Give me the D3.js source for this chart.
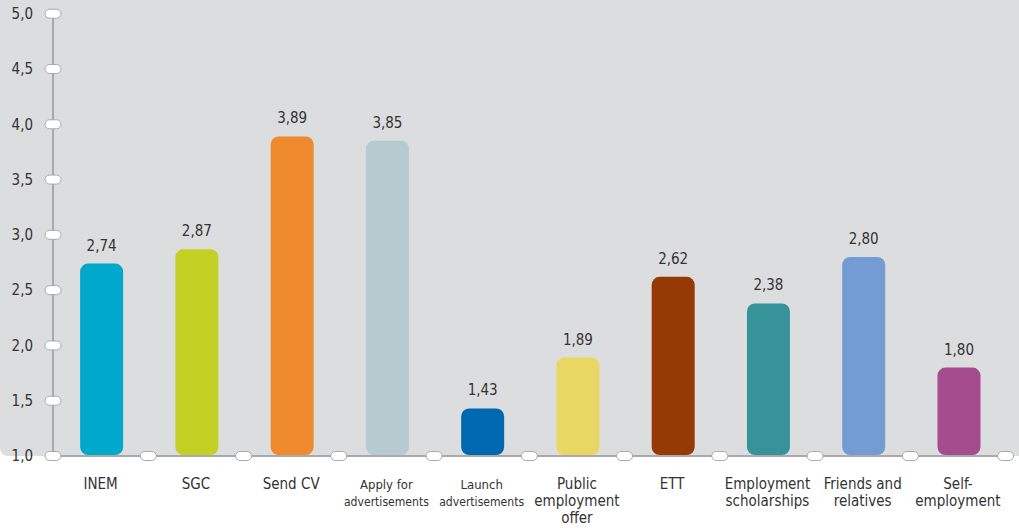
<!DOCTYPE html>
<html>
<head>
<meta charset="utf-8">
<script src="https://cdn.jsdelivr.net/npm/d3@7"></script>
<style>
  html, body { margin: 0; padding: 0; background: #ffffff; }
  svg { display: block; }
  text { font-family: "Liberation Sans Narrow", "DejaVu Sans Condensed", "Open Sans", sans-serif; fill: #333333; }
</style>
</head>
<body>
<svg id="chart" width="1019" height="528"></svg>
<script>
const categories = ["INEM", "SGC", "Send CV", "Apply for advertisements", "Launch advertisements",
  "Public employment offer", "ETT", "Employment scholarships", "Friends and relatives", "Self-employment"];
const categoryLines = [["INEM"], ["SGC"], ["Send CV"], ["Apply for", "advertisements"], ["Launch", "advertisements"],
  ["Public", "employment", "offer"], ["ETT"], ["Employment", "scholarships"], ["Friends and", "relatives"], ["Self-", "employment"]];
const values = [2.74, 2.87, 3.89, 3.85, 1.43, 1.89, 2.62, 2.38, 2.80, 1.80];
const colors = ["#00a9cc", "#c3d124", "#ef8a2e", "#b5cbd0", "#0068b0", "#e8d762", "#963a05", "#36939a", "#729cd2", "#a54c8e"];
const yTicks = [1.0, 1.5, 2.0, 2.5, 3.0, 3.5, 4.0, 4.5, 5.0];
const smallLabels = ["Apply for advertisements", "Launch advertisements"];

const svg = d3.select("#chart");
const W = 1019;
const x0 = 53, x1 = 1005.6, yBase = 456, yTop = 13.7;

const x = d3.scaleBand().domain(categories).range([x0, x1]).padding(0);
const y = d3.scaleLinear().domain([1, 5]).range([yBase, yTop]);
const locale = d3.formatLocale({decimal: ",", thousands: ".", grouping: [3], currency: ["", "€"]});
const f1 = locale.format(".1f"), f2 = locale.format(".2f");

// background
const r = 9;
svg.append("path")
  .attr("d", `M0,0 H${W} V${yBase} H${r} Q0,${yBase} 0,${yBase - r} Z`)
  .attr("fill", "#dcdddf");

// y axis line
svg.append("line").attr("x1", x0).attr("x2", x0).attr("y1", y(5)).attr("y2", yBase)
  .attr("stroke", "#a9a9a9").attr("stroke-width", 2);
// x axis line
svg.append("line").attr("x1", x0).attr("x2", x1).attr("y1", yBase).attr("y2", yBase)
  .attr("stroke", "#a9a9a9").attr("stroke-width", 2);

// bars
const bw = 43;
svg.append("g").selectAll("rect").data(categories).join("rect")
  .attr("x", (d) => x(d) + x.bandwidth() / 2 - bw / 2 + 1)
  .attr("y", (d, i) => y(values[i]))
  .attr("width", bw)
  .attr("height", (d, i) => yBase - 1 - y(values[i]))
  .attr("rx", 8).attr("ry", 8)
  .attr("fill", (d, i) => colors[i]);

// value labels
svg.append("g").selectAll("text").data(categories).join("text")
  .attr("x", (d) => x(d) + x.bandwidth() / 2 + 1)
  .attr("y", (d, i) => y(values[i]) - 13)
  .attr("text-anchor", "middle")
  .attr("font-size", 15)
  .text((d, i) => f2(values[i]));

// y axis labels via d3 axis
const yAxis = svg.append("g").attr("transform", `translate(${x0},0)`)
  .call(d3.axisLeft(y).tickValues(yTicks).tickFormat(f1).tickSize(0).tickPadding(20));
yAxis.select(".domain").remove();
yAxis.selectAll("text").attr("font-size", 15).attr("fill", "#333333")
  .style("font-family", '"Liberation Sans Narrow", "DejaVu Sans Condensed", sans-serif');

// y ovals
svg.append("g").selectAll("rect").data(yTicks).join("rect")
  .attr("x", x0 - 8).attr("y", (d) => y(d) - 4.5)
  .attr("width", 16).attr("height", 9).attr("rx", 4.5).attr("ry", 4.5)
  .attr("fill", "#ffffff").attr("stroke", "#a9a9a9").attr("stroke-width", 1);

// x ovals at band boundaries
const bounds = categories.map((d) => x(d)).concat([x1]).slice(1);
svg.append("g").selectAll("rect").data(bounds).join("rect")
  .attr("x", (d) => d - 8).attr("y", yBase - 4.5)
  .attr("width", 16).attr("height", 9).attr("rx", 4.5).attr("ry", 4.5)
  .attr("fill", "#ffffff").attr("stroke", "#a9a9a9").attr("stroke-width", 1);

// category labels
const lab = svg.append("g").selectAll("text").data(categories).join("text")
  .attr("text-anchor", "middle")
  .attr("font-size", (d) => smallLabels.includes(d) ? 13 : 15);
lab.each(function(d, i) {
  const t = d3.select(this);
  const cx = x(d) + x.bandwidth() / 2;
  const small = smallLabels.includes(d);
  categoryLines[i].forEach((line, j) => {
    const ts = t.append("tspan").attr("x", cx).attr("y", 489 + j * 17).text(line);
    if (small && line === "advertisements") ts.attr("textLength", 85).attr("lengthAdjust", "spacingAndGlyphs");
  });
});
</script>
</body>
</html>
